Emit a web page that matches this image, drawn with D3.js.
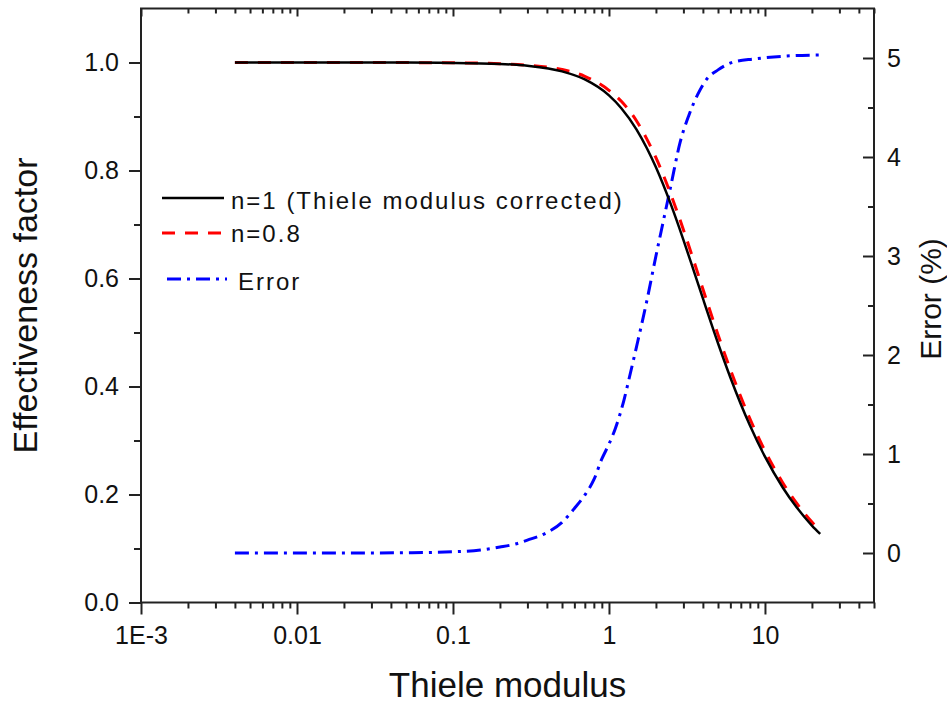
<!DOCTYPE html>
<html>
<head>
<meta charset="utf-8">
<script src="https://cdn.jsdelivr.net/npm/d3@7"></script>
<style>
  body { margin: 0; background: #fff; }
  text { font-family: "Liberation Sans", Arial, Helvetica, sans-serif; fill: #111; }
</style>
</head>
<body>
<svg id="chart" width="947" height="706"></svg>
<script>
// Thiele modulus grid for the effectiveness-factor curves
const phi = [0.004, 0.01, 0.02, 0.05, 0.1, 0.2, 0.3, 0.5, 0.7, 1.0, 1.2, 1.5, 1.75, 2.0, 2.5, 3.0, 3.5, 4.0, 5.0, 6.0, 8.0, 10.0, 13.0, 16.0, 20.0, 22.6];
// n = 1 (Thiele modulus corrected)
const etaN1 = [1.0, 1.0, 1.0, 0.9998, 0.9993, 0.9974, 0.994, 0.9836, 0.9686, 0.9391, 0.9154, 0.8763, 0.8413, 0.806, 0.7363, 0.6716, 0.6138, 0.563, 0.4801, 0.4167, 0.3281, 0.27, 0.213, 0.1758, 0.1425, 0.1269];
// n = 0.8
const etaN08 = [1.0, 1.0, 1.0, 0.9998, 0.9994, 0.9978, 0.995, 0.987, 0.9745, 0.9485, 0.9282, 0.8921, 0.8581, 0.8237, 0.7547, 0.6904, 0.6322, 0.5805, 0.4959, 0.4313, 0.3406, 0.2808, 0.2219, 0.1835, 0.1491, 0.1329];
// Error (%) between the two curves
const errPhi = [0.004, 0.01, 0.02, 0.05, 0.1, 0.15, 0.2, 0.25, 0.3, 0.4, 0.5, 0.6, 0.7, 0.8, 0.9, 1.0, 1.1, 1.25, 1.35, 1.5, 1.75, 2.0, 2.25, 2.5, 2.86, 3.25, 3.7, 4.25, 5.0, 6.3, 8.5, 13.8, 22.6];
const errPct = [0, 0, 0, 0.003, 0.012, 0.03, 0.06, 0.09, 0.13, 0.206, 0.31, 0.45, 0.585, 0.74, 0.95, 1.1, 1.26, 1.55, 1.77, 2.08, 2.55, 3.0, 3.38, 3.72, 4.15, 4.42, 4.63, 4.79, 4.88, 4.96, 4.99, 5.02, 5.03];

const xMajor = [0.001, 0.01, 0.1, 1, 10];
const xTickLabels = ["1E-3", "0.01", "0.1", "1", "10"];
const yLeftMajor = [0, 0.2, 0.4, 0.6, 0.8, 1.0];
const yRightMajor = [0, 1, 2, 3, 4, 5];

const legendItems = [
  { label: "n=1 (Thiele modulus corrected)", color: "#000", dash: null, key: "n1" },
  { label: "n=0.8", color: "#ff0000", dash: "13,10", key: "n08" },
  { label: "Error", color: "#0000ff", dash: "14,6,3,6", key: "err" }
];

const svg = d3.select("#chart");
const L = 141, R = 874, T = 8.5, B = 602.5;

const x = d3.scaleLog().domain([0.001, 50]).range([L, R]);
const yL = d3.scaleLinear().domain([0, 1.1]).range([B, T]);
const yR = d3.scaleLinear().domain([-0.5, 5.5]).range([B, T]);

// minor tick positions
const xMinor = [];
for (let e = -3; e <= 1; e++) {
  for (let m = 2; m <= 9; m++) {
    const v = m * Math.pow(10, e);
    if (v <= 50) xMinor.push(v);
  }
}
const yLeftMinor = [0.1, 0.3, 0.5, 0.7, 0.9];
const yRightMinor = [0.5, 1.5, 2.5, 3.5, 4.5];

function styleAxis(g) {
  g.select(".domain").remove();
  g.selectAll(".tick line").attr("stroke", "#222").attr("stroke-width", 2);
  g.selectAll(".tick text").style("font-size", "25px").attr("fill", "#222");
}

// bottom axis
svg.append("g").attr("transform", `translate(0,${B})`)
  .call(d3.axisBottom(x).tickValues(xMajor).tickSize(12).tickPadding(12)
    .tickFormat((d, i) => xTickLabels[i]))
  .call(styleAxis);
svg.append("g").attr("transform", `translate(0,${B})`)
  .call(d3.axisBottom(x).tickValues(xMinor).tickSize(6).tickFormat(""))
  .call(styleAxis);

// top axis (inward ticks)
svg.append("g").attr("transform", `translate(0,${T})`)
  .call(d3.axisTop(x).tickValues(xMajor).tickSize(-8).tickFormat(""))
  .call(styleAxis);
svg.append("g").attr("transform", `translate(0,${T})`)
  .call(d3.axisTop(x).tickValues(xMinor).tickSize(-5).tickFormat(""))
  .call(styleAxis);

// left axis
svg.append("g").attr("transform", `translate(${L},0)`)
  .call(d3.axisLeft(yL).tickValues(yLeftMajor).tickSize(12).tickPadding(10).tickFormat(d3.format(".1f")))
  .call(styleAxis);
svg.append("g").attr("transform", `translate(${L},0)`)
  .call(d3.axisLeft(yL).tickValues(yLeftMinor).tickSize(7).tickFormat(""))
  .call(styleAxis);

// right axis (inward ticks, labels outside)
svg.append("g").attr("transform", `translate(${R},0)`)
  .call(d3.axisRight(yR).tickValues(yRightMajor).tickSize(-11).tickPadding(13).tickFormat(d3.format("d")))
  .call(styleAxis);
svg.append("g").attr("transform", `translate(${R},0)`)
  .call(d3.axisRight(yR).tickValues(yRightMinor).tickSize(-6).tickFormat(""))
  .call(styleAxis);

// frame
svg.append("rect").attr("x", L).attr("y", T).attr("width", R - L).attr("height", B - T)
  .attr("fill", "none").attr("stroke", "#222").attr("stroke-width", 2);

// curves
const lineLeft = d3.line().x(d => x(d[0])).y(d => yL(d[1])).curve(d3.curveMonotoneX);
const lineRight = d3.line().x(d => x(d[0])).y(d => yR(d[1])).curve(d3.curveMonotoneX);

svg.append("path").datum(d3.zip(errPhi, errPct)).attr("d", lineRight)
  .attr("fill", "none").attr("stroke", "#0000ff").attr("stroke-width", 3)
  .attr("stroke-dasharray", "14,6,3,6");
svg.append("path").datum(d3.zip(phi, etaN08)).attr("d", lineLeft)
  .attr("fill", "none").attr("stroke", "#ff0000").attr("stroke-width", 3)
  .attr("stroke-dasharray", "13,10");
svg.append("path").datum(d3.zip(phi, etaN1)).attr("d", lineLeft)
  .attr("fill", "none").attr("stroke", "#000").attr("stroke-width", 2.5);

// legend
const legendRows = [
  { y: 198, x1: 162, x2: 224, tx: 231, ty: 209 },
  { y: 233, x1: 162, x2: 224, tx: 231, ty: 242 },
  { y: 279, x1: 167, x2: 227, tx: 238, ty: 290 }
];
legendItems.forEach((it, i) => {
  const r = legendRows[i];
  svg.append("line").attr("x1", r.x1).attr("x2", r.x2).attr("y1", r.y).attr("y2", r.y)
    .attr("stroke", it.color).attr("stroke-width", it.dash ? 3 : 2.5)
    .attr("stroke-dasharray", it.dash);
  svg.append("text").attr("x", r.tx).attr("y", r.ty)
    .style("font-size", "24px").style("letter-spacing", "2px").attr("fill", "#222")
    .text(it.label);
});

// axis titles
svg.append("text").attr("x", (L + R) / 2).attr("y", 697).attr("text-anchor", "middle")
  .style("font-size", "35px").text("Thiele modulus");
svg.append("text").attr("transform", `translate(37,${(T + B) / 2}) rotate(-90)`)
  .attr("text-anchor", "middle").style("font-size", "34px").text("Effectiveness factor");
svg.append("text").attr("transform", `translate(941,299) rotate(-90)`)
  .attr("text-anchor", "middle").style("font-size", "30px").text("Error (%)");
</script>
</body>
</html>
